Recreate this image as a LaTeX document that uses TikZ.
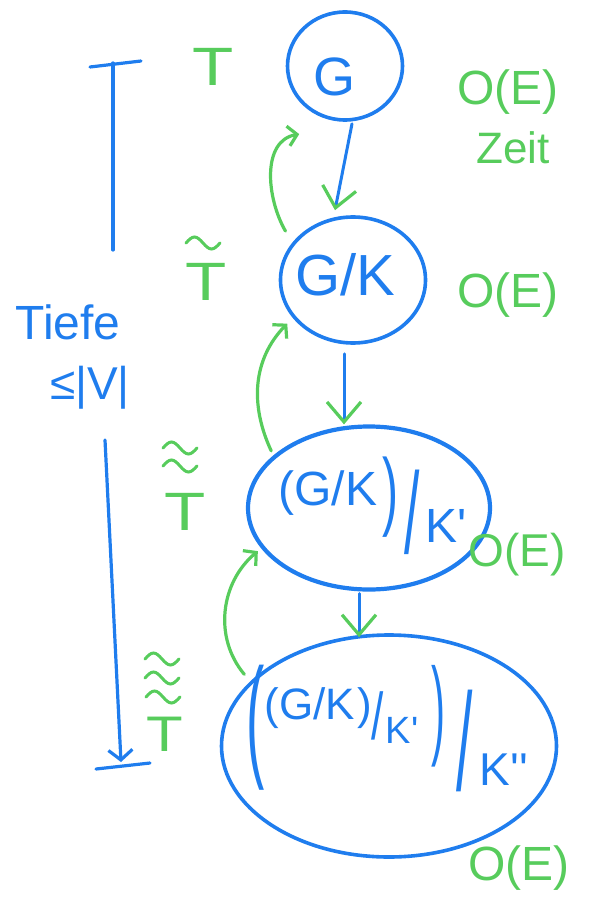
\documentclass[tikz,border=0pt]{standalone}
\usepackage{fontspec}
\usetikzlibrary{arrows.meta,shapes.geometric}
% plain face without TeX ligatures, so ' stays a straight tick
\newfontfamily\inkface{Liberation Sans}
\newcommand{\inkfont}[1]{\inkface\fontsize{#1}{#1}\selectfont}
\definecolor{inkblue}{HTML}{1F7DEE}
\definecolor{inkgreen}{HTML}{57CC5C}
\begin{document}
\begin{tikzpicture}[x=1pt,y=1pt,
  blob/.style={ellipse, draw=inkblue, line width=3.6pt, inner sep=0pt},
  bt/.style={text=inkblue, inner sep=0pt},
  gt/.style={text=inkgreen, inner sep=0pt},
  flow/.style={draw=inkblue, line width=3pt, line cap=round,
    -{Straight Barb[color=inkgreen, length=20pt, width=34pt, line width=3.2pt]}},
  back/.style={draw=inkgreen, line width=3.2pt, line cap=round,
    -{Straight Barb[length=9pt, width=20pt]}},
  pen/.style={draw=inkblue, line width=3.2pt, line cap=round},
  wave/.style={draw=inkgreen, line width=3pt, line cap=round},
  tildemark/.pic={\draw[wave] (-17,0) sin (-8.5,6) cos (0,0) sin (8.5,-6) cos (17,0);}
]
\useasboundingbox (0,0) rectangle (606,-909);

% the four contracted graphs
\node[blob, minimum width=115pt, minimum height=108pt] (n1) at (345,-66) {};
\node[blob, minimum width=145pt, minimum height=126pt] (n2) at (353,-280) {};
\node[blob, minimum width=242pt, minimum height=163pt, line width=4.2pt] (n3) at (369,-508) {};
\node[blob, minimum width=335pt, minimum height=222pt] (n4) at (389,-746) {};

% their labels
\node[bt, font=\inkfont{54}] (g1) at (334,-77) {G};
\node[bt, font=\inkfont{58}] (g2) at (345,-275) {G/K};

\node[bt, font=\inkfont{48}] (g3a) at (328,-493) {(G/K};
\node[bt, font=\inkfont{48}] (g3b) at (390,-497) {\scalebox{1}[1.8]{)}};
\node[bt, font=\inkfont{48}] (g3c) at (412,-512) {\scalebox{1.15}[2.4]{/}};
\node[bt, font=\inkfont{48}] (g3d) at (446,-526) {K'};

\node[bt, font=\inkfont{42}] (g4p) at (256,-728) {\scalebox{1.3}[3.2]{(}};
\node[bt, font=\inkfont{44}] (g4a) at (310,-708) {(G/K};
\node[bt, font=\inkfont{44}] (g4b) at (365,-708) {)};
\node[bt, font=\inkfont{44}] (g4c) at (378,-716) {\scalebox{1}[1.5]{/}};
\node[bt, font=\inkfont{38}] (g4d) at (402,-730) {K'};
\node[bt, font=\inkfont{42}] (g4e) at (438,-716) {\scalebox{1}[2.6]{)}};
\node[bt, font=\inkfont{42}] (g4f) at (465,-741) {\scalebox{1.4}[3.3]{/}};
\node[bt, font=\inkfont{46}] (g4g) at (504,-770) {K''};

% contraction steps
\draw[flow] ([shift={(7,-2)}]n1.south) -- ([shift={(-18,5)}]n2.north);
\draw[flow] ([shift={(-9,-9)}]n2.south) -- ([shift={(-25,0)}]n3.north);
\draw[flow] ([shift={(-10,-2)}]n3.south) -- ([shift={(-30,-4)}]n4.north);

% trees carried back
\draw[back] ([shift={(-14,4)}]n2.140) to[out=120,in=190] ([shift={(-14,-21)}]n1.236);
\draw[back] ([shift={(-4,3)}]n3.150) to[out=115,in=226] ([shift={(-7,-4)}]n2.214);
\draw[back] ([shift={(-6,7)}]n4.155) to[out=130,in=220] ([shift={(-4,-2)}]n3.201);

% depth gauge on the left
\coordinate (dA) at (90,-67);
\coordinate (dB) at (141,-61);
\coordinate (dC) at (113,-63);
\coordinate (dD) at (113,-250);
\coordinate (dE) at (105,-440);
\coordinate (dF) at (121,-762);
\coordinate (dG) at (96,-769);
\coordinate (dH) at (150,-763);
\draw[pen] (dA) -- (dB);
\draw[pen] (dC) -- (dD);
\draw[pen, -{Straight Barb[length=10pt, width=24pt]}] (dE) -- (dF);
\draw[pen] (dG) -- (dH);
\node[bt, font=\inkfont{48}] (tiefe) at (68,-322) {Tiefe};
\node[bt, font=\inkfont{46}] (bound) at (90,-388) {≤|V|};

% spanning trees
\node[gt, font=\inkfont{54}] (T0) at (213,-67) {\scalebox{1.25}[1]{T}};
\node[gt, font=\inkfont{54}] (T1) at (206,-282) {\scalebox{1.25}[1]{T}};
\pic at (203,-243) {tildemark};
\node[gt, font=\inkfont{54}] (T2) at (185,-512) {\scalebox{1.25}[1]{T}};
\pic at (180,-448) {tildemark};
\pic at (180,-466) {tildemark};
\node[gt, font=\inkfont{50}] (T3) at (165,-734) {\scalebox{1.2}[1]{T}};
\pic at (162,-659) {tildemark};
\pic at (162,-678) {tildemark};
\pic at (163,-697) {tildemark};

% running times
\node[gt, font=\inkfont{48}] (c1) at (508,-92) {O(E)};
\node[gt, font=\inkfont{44}] (zeit) at (513,-148) {Zeit};
\node[gt, font=\inkfont{48}] (c2) at (508,-295) {O(E)};
\node[gt, font=\inkfont{46}] (c3) at (517,-555) {O(E)};
\node[gt, font=\inkfont{48}] (c4) at (519,-868) {O(E)};
\end{tikzpicture}
\end{document}
